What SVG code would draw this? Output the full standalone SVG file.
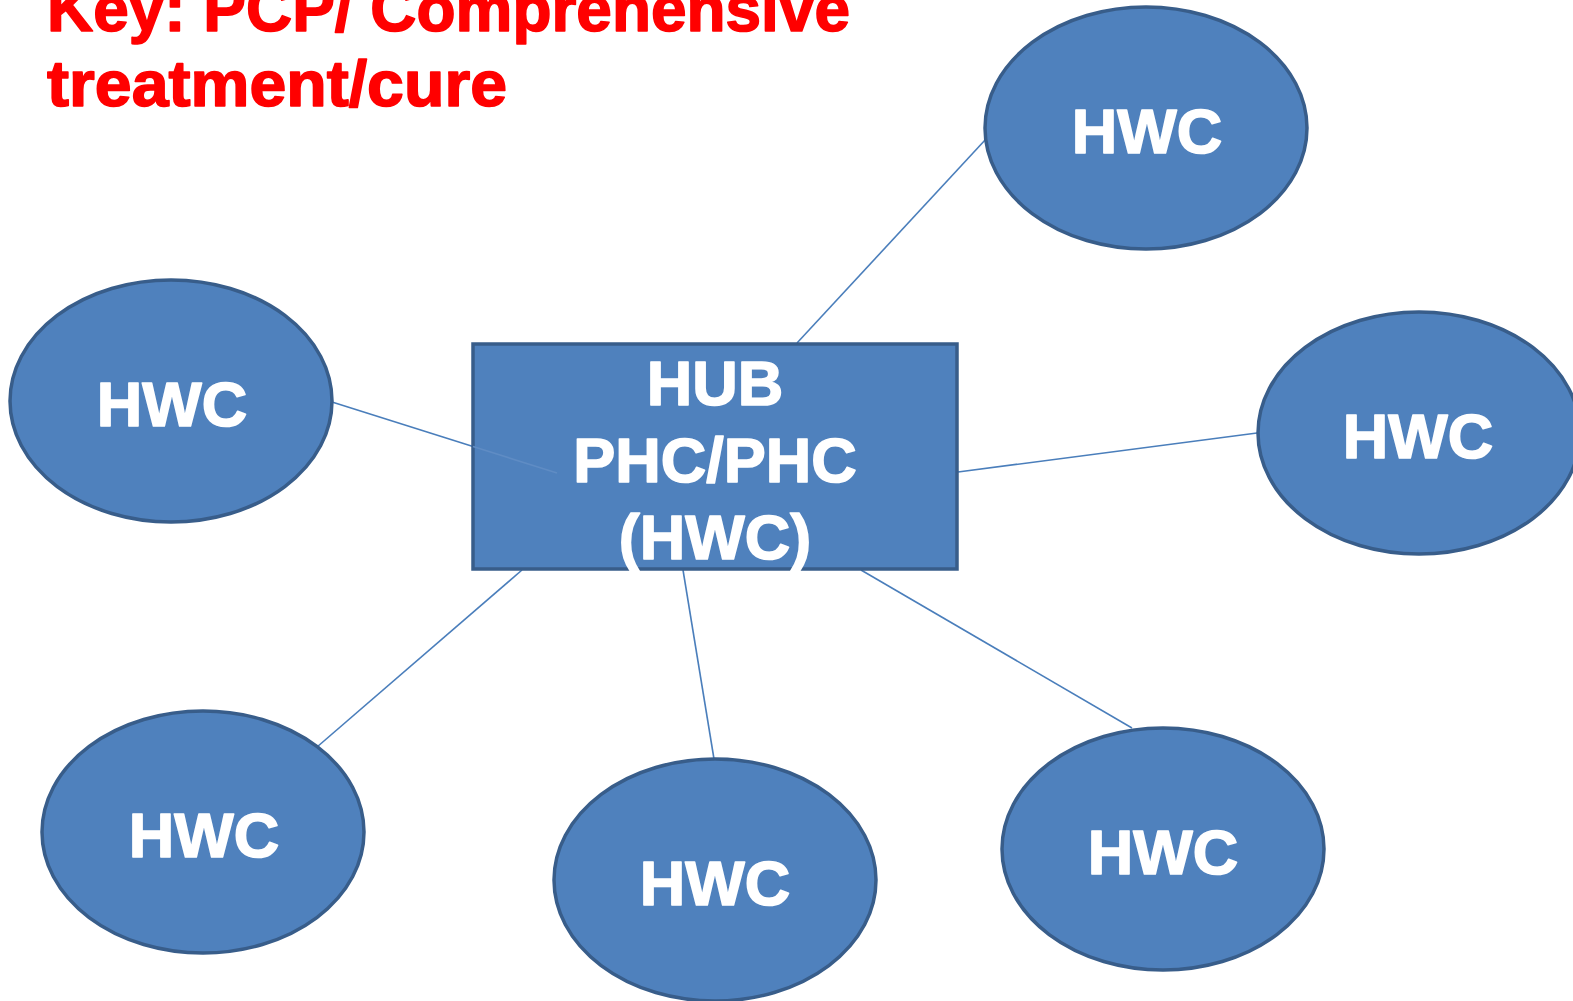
<svg xmlns="http://www.w3.org/2000/svg" width="1573" height="1001" viewBox="0 0 1573 1001">
<style>
.node{fill:#4f81bd;stroke:#385d8a;stroke-width:3.5}
.lbl{font-family:"Liberation Sans",Arial,sans-serif;font-weight:bold;fill:#fff;stroke:#fff;stroke-width:1.6;stroke-linejoin:round;text-anchor:middle;font-size:63px}
.title{font-family:"Liberation Sans",Arial,sans-serif;font-weight:bold;fill:#ff0000;stroke:#ff0000;stroke-width:1.6;stroke-linejoin:round;font-size:65px}
.conn line{stroke:#4a7ebb;stroke-width:1.6}
</style>
<rect width="1573" height="1001" fill="#fff"/>
<g id="title">
<text class="title" x="47" y="31" textLength="803" lengthAdjust="spacingAndGlyphs">Key: PCP/ Comprehensive</text>
<text class="title" x="47" y="106" textLength="460" lengthAdjust="spacingAndGlyphs">treatment/cure</text>
</g>
<g id="connectors" class="conn">
<line x1="797" y1="343" x2="986" y2="139"/>
<line x1="332" y1="402" x2="473" y2="446.5"/>
<line x1="958" y1="472" x2="1257" y2="433"/>
<line x1="522" y1="570" x2="317" y2="747"/>
<line x1="683" y1="570" x2="714" y2="759"/>
<line x1="861" y1="570" x2="1132" y2="728"/>
</g>
<g id="hub">
<rect class="node" x="473" y="344" width="484" height="225"/>
<line x1="473" y1="446.5" x2="557" y2="473" stroke="#5f8cc4" stroke-width="1.6"/>
<text class="lbl" x="715" y="405" font-size="64">HUB</text>
<text class="lbl" x="715" y="482" font-size="64">PHC/PHC</text>
<text class="lbl" x="715" y="559" font-size="64">(HWC)</text>
</g>
<g id="hwc-top-right">
<ellipse class="node" cx="1146" cy="128" rx="161" ry="121"/>
<text class="lbl" x="1147" y="153">HWC</text>
</g>
<g id="hwc-left">
<ellipse class="node" cx="171" cy="401" rx="161" ry="121"/>
<text class="lbl" x="172" y="426">HWC</text>
</g>
<g id="hwc-right">
<ellipse class="node" cx="1419" cy="433" rx="161" ry="121"/>
<text class="lbl" x="1418" y="458">HWC</text>
</g>
<g id="hwc-bottom-left">
<ellipse class="node" cx="203" cy="832" rx="161" ry="121"/>
<text class="lbl" x="204" y="857">HWC</text>
</g>
<g id="hwc-bottom-middle">
<ellipse class="node" cx="715" cy="880" rx="161" ry="121"/>
<text class="lbl" x="715" y="905">HWC</text>
</g>
<g id="hwc-bottom-right">
<ellipse class="node" cx="1163" cy="849" rx="161" ry="121"/>
<text class="lbl" x="1163" y="874">HWC</text>
</g>
</svg>
